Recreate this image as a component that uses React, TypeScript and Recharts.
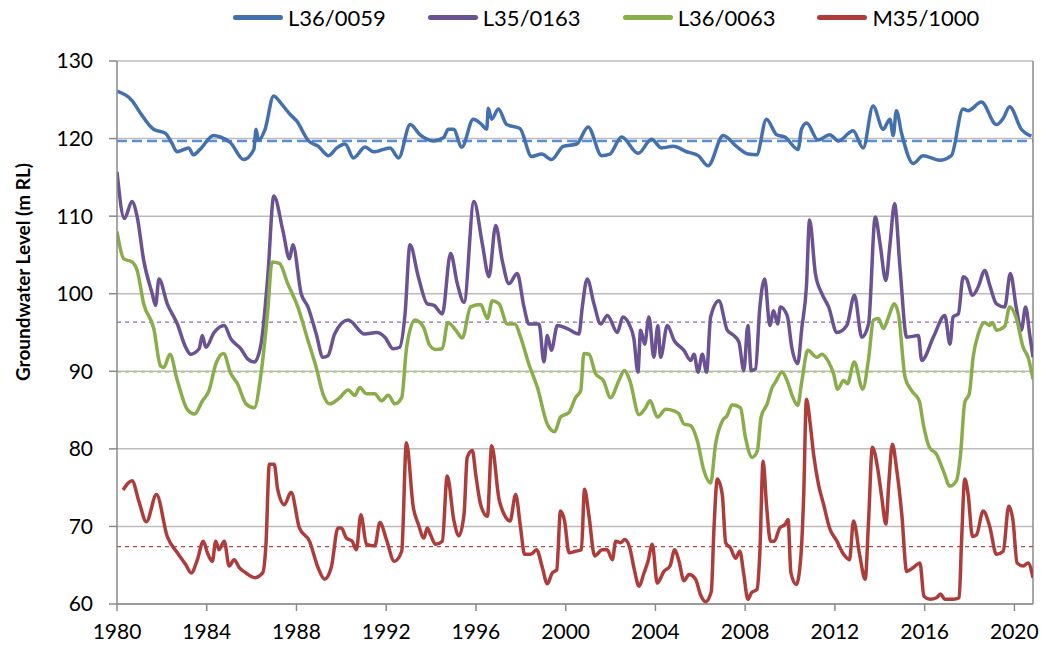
import { LineChart, Line, XAxis, YAxis, CartesianGrid, ReferenceLine } from 'recharts'

// bore L36/0059
const l36_0059Years = [1980.0, 1980.67, 1981.04, 1981.63, 1982.15, 1982.45, 1982.67, 1983.2, 1983.4, 1983.7, 1984.3, 1984.6, 1985.05, 1985.64, 1986.1, 1986.2, 1986.3, 1986.6, 1986.98, 1987.35, 1987.72, 1988.0, 1988.54, 1988.98, 1989.43, 1989.8, 1990.17, 1990.54, 1991.06, 1991.43, 1992.17, 1992.55, 1993.07, 1993.5, 1994.1, 1994.55, 1994.77, 1995.0, 1995.37, 1995.88, 1996.26, 1996.48, 1996.55, 1996.7, 1997.0, 1997.37, 1997.96, 1998.48, 1998.93, 1999.37, 1999.89, 2000.49, 2001.0, 2001.6, 2001.97, 2002.49, 2003.23, 2003.83, 2004.27, 2004.79, 2005.39, 2005.91, 2006.35, 2007.02, 2007.61, 2008.14, 2008.51, 2008.95, 2009.4, 2009.77, 2010.36, 2010.51, 2010.74, 2011.25, 2011.77, 2012.15, 2012.81, 2013.26, 2013.7, 2014.15, 2014.45, 2014.6, 2014.74, 2014.97, 2015.49, 2015.93, 2016.67, 2017.19, 2017.71, 2017.94, 2018.53, 2019.2, 2019.5, 2019.79, 2020.31, 2020.76]
const l36_0059Levels = [126.1, 124.9, 123.3, 121.2, 120.7, 119.4, 118.3, 118.8, 117.9, 118.6, 120.4, 120.2, 119.5, 117.3, 118.6, 121.2, 119.8, 121.2, 125.5, 124.4, 123.1, 122.3, 119.7, 119.0, 117.8, 118.8, 119.3, 117.5, 118.9, 118.3, 118.8, 117.5, 121.8, 120.5, 119.7, 120.1, 121.2, 121.2, 118.9, 122.5, 121.8, 121.2, 123.9, 122.5, 123.8, 121.8, 121.3, 117.7, 118.0, 117.3, 119.0, 119.3, 121.5, 117.8, 118.0, 120.2, 118.1, 119.9, 118.8, 119.0, 118.3, 117.8, 116.5, 120.4, 119.0, 118.0, 117.9, 122.5, 120.5, 120.2, 118.6, 121.2, 122.0, 119.8, 120.5, 119.7, 121.0, 118.8, 124.2, 121.2, 122.5, 120.4, 123.6, 120.7, 116.8, 117.8, 117.2, 117.8, 123.8, 123.6, 124.7, 121.8, 122.6, 124.1, 121.2, 120.3]

// bore L35/0163
const l35_0163Years = [1980.0, 1980.33, 1980.67, 1980.9, 1981.19, 1981.57, 1981.72, 1981.87, 1982.24, 1982.69, 1983.06, 1983.28, 1983.66, 1983.8, 1983.96, 1984.33, 1984.78, 1985.07, 1985.52, 1985.82, 1986.12, 1986.42, 1986.72, 1986.99, 1987.39, 1987.69, 1987.84, 1988.21, 1988.51, 1988.88, 1989.18, 1989.4, 1989.7, 1990.3, 1991.04, 1991.57, 1991.94, 1992.31, 1992.6, 1992.84, 1993.06, 1993.43, 1993.83, 1994.13, 1994.5, 1994.87, 1995.17, 1995.47, 1995.91, 1996.28, 1996.58, 1996.88, 1997.17, 1997.47, 1997.84, 1998.14, 1998.36, 1998.81, 1999.03, 1999.18, 1999.36, 1999.63, 2000.07, 2000.59, 2000.74, 2000.96, 2001.26, 2001.56, 2001.86, 2002.3, 2002.55, 2002.82, 2003.04, 2003.22, 2003.34, 2003.52, 2003.71, 2003.93, 2004.11, 2004.23, 2004.53, 2004.83, 2005.27, 2005.57, 2005.72, 2005.9, 2006.09, 2006.28, 2006.46, 2006.83, 2007.2, 2007.5, 2007.72, 2007.94, 2008.12, 2008.27, 2008.46, 2008.65, 2008.87, 2009.1, 2009.27, 2009.45, 2009.57, 2009.87, 2010.09, 2010.34, 2010.53, 2010.73, 2010.87, 2011.13, 2011.42, 2011.72, 2012.09, 2012.53, 2012.87, 2013.2, 2013.5, 2013.8, 2014.01, 2014.27, 2014.46, 2014.66, 2014.9, 2015.2, 2015.72, 2015.87, 2016.39, 2016.9, 2017.13, 2017.27, 2017.5, 2017.72, 2017.87, 2018.13, 2018.39, 2018.68, 2018.9, 2019.2, 2019.57, 2019.82, 2020.09, 2020.31, 2020.5, 2020.68, 2020.83]
const l35_0163Levels = [115.7, 109.7, 111.9, 109.9, 104.3, 100.0, 98.5, 101.9, 98.7, 96.1, 93.1, 92.2, 92.9, 94.6, 93.1, 95.0, 95.9, 94.2, 92.9, 91.6, 91.2, 93.5, 102.2, 112.6, 108.2, 104.5, 106.3, 100.0, 98.3, 94.8, 91.8, 92.0, 94.8, 96.6, 94.8, 95.0, 94.4, 92.9, 93.1, 97.4, 106.3, 102.2, 98.7, 98.5, 97.4, 105.2, 101.3, 98.9, 111.9, 106.5, 102.2, 108.8, 104.3, 101.3, 102.6, 98.3, 96.1, 96.1, 91.2, 94.6, 92.7, 95.9, 95.5, 94.8, 98.3, 101.9, 98.7, 96.1, 97.2, 95.0, 97.0, 96.1, 94.2, 89.9, 95.3, 93.5, 97.0, 91.8, 95.9, 91.8, 95.9, 94.0, 92.7, 91.4, 92.2, 89.9, 92.2, 89.9, 97.0, 99.1, 95.3, 94.6, 93.8, 90.1, 95.9, 90.1, 90.3, 98.1, 101.9, 95.9, 97.8, 96.1, 98.3, 97.2, 92.9, 91.0, 95.7, 100.9, 109.5, 102.6, 100.0, 98.3, 95.0, 95.9, 99.8, 94.4, 96.1, 109.9, 106.5, 101.7, 106.5, 111.6, 103.4, 94.4, 94.6, 91.4, 94.4, 97.2, 93.5, 97.0, 97.4, 102.2, 101.9, 99.8, 100.9, 103.0, 101.1, 98.7, 98.3, 102.6, 98.1, 95.3, 98.3, 94.8, 91.8]

// bore L36/0063
const l36_0063Years = [1980.0, 1980.3, 1980.67, 1980.9, 1981.19, 1981.64, 1981.94, 1982.09, 1982.36, 1982.69, 1983.13, 1983.46, 1983.81, 1984.1, 1984.4, 1984.75, 1985.07, 1985.37, 1985.75, 1986.12, 1986.42, 1986.72, 1986.91, 1987.24, 1987.61, 1988.06, 1988.51, 1988.88, 1989.18, 1989.48, 1989.93, 1990.3, 1990.6, 1990.82, 1991.12, 1991.49, 1991.79, 1992.09, 1992.39, 1992.69, 1992.91, 1993.28, 1993.66, 1993.93, 1994.2, 1994.5, 1994.75, 1995.1, 1995.39, 1995.76, 1996.21, 1996.51, 1996.73, 1997.03, 1997.4, 1997.74, 1997.99, 1998.36, 1998.74, 1999.18, 1999.51, 1999.77, 2000.15, 2000.44, 2000.67, 2000.81, 2001.04, 2001.33, 2001.68, 2002.0, 2002.37, 2002.62, 2002.86, 2003.27, 2003.52, 2003.76, 2004.09, 2004.46, 2004.83, 2005.05, 2005.27, 2005.57, 2005.87, 2006.16, 2006.46, 2006.68, 2006.98, 2007.2, 2007.42, 2007.79, 2008.01, 2008.31, 2008.54, 2008.71, 2008.98, 2009.2, 2009.35, 2009.64, 2009.87, 2010.09, 2010.34, 2010.53, 2010.79, 2011.2, 2011.42, 2011.72, 2011.94, 2012.12, 2012.39, 2012.56, 2012.86, 2013.24, 2013.5, 2013.72, 2013.94, 2014.16, 2014.39, 2014.64, 2014.83, 2015.13, 2015.42, 2015.76, 2015.94, 2016.21, 2016.53, 2016.83, 2017.13, 2017.42, 2017.6, 2017.79, 2017.99, 2018.16, 2018.39, 2018.68, 2018.9, 2019.02, 2019.2, 2019.57, 2019.79, 2020.09, 2020.39, 2020.61, 2020.83]
const l36_0063Levels = [108.0, 104.5, 104.1, 103.0, 98.7, 95.5, 90.7, 90.5, 92.2, 88.8, 85.1, 84.5, 86.2, 87.5, 90.9, 92.3, 89.7, 88.4, 85.8, 85.3, 89.7, 97.8, 104.1, 103.9, 101.3, 98.3, 94.0, 90.5, 87.1, 85.8, 86.6, 87.6, 86.9, 87.9, 87.1, 87.1, 86.2, 86.9, 85.8, 86.6, 93.1, 96.6, 95.7, 93.4, 92.8, 92.9, 96.3, 95.3, 94.3, 98.3, 98.6, 96.8, 99.1, 98.7, 96.1, 96.1, 94.4, 90.9, 87.9, 83.2, 82.2, 84.1, 84.7, 86.6, 87.5, 92.3, 92.2, 89.7, 88.8, 86.6, 88.8, 90.1, 88.8, 84.4, 85.1, 86.2, 84.1, 85.1, 84.9, 84.5, 83.2, 83.0, 81.0, 77.2, 75.6, 80.6, 83.6, 84.3, 85.7, 85.3, 81.5, 78.9, 79.7, 84.1, 85.8, 87.9, 88.6, 89.9, 88.8, 86.9, 85.6, 88.8, 92.7, 91.8, 92.2, 91.2, 89.7, 87.7, 88.8, 88.4, 91.2, 87.7, 91.6, 96.6, 96.8, 95.5, 97.0, 98.7, 97.4, 89.2, 87.5, 86.2, 83.2, 80.2, 79.3, 77.2, 75.2, 75.9, 79.3, 86.0, 87.1, 91.8, 94.8, 96.3, 95.9, 96.3, 95.3, 95.8, 98.3, 96.8, 93.1, 91.8, 89.0]

// bore M35/1000
const m35_1000Years = [1980.27, 1980.67, 1980.97, 1981.31, 1981.76, 1982.24, 1982.69, 1983.06, 1983.31, 1983.58, 1983.85, 1984.03, 1984.25, 1984.4, 1984.55, 1984.78, 1985.0, 1985.22, 1985.45, 1985.75, 1986.15, 1986.49, 1986.64, 1986.79, 1987.01, 1987.16, 1987.46, 1987.76, 1988.13, 1988.58, 1988.96, 1989.25, 1989.55, 1989.85, 1990.0, 1990.22, 1990.48, 1990.67, 1990.87, 1991.12, 1991.49, 1991.72, 1992.01, 1992.36, 1992.69, 1992.9, 1993.21, 1993.43, 1993.68, 1993.83, 1993.98, 1994.2, 1994.5, 1994.72, 1995.02, 1995.24, 1995.47, 1995.61, 1995.84, 1995.99, 1996.21, 1996.51, 1996.7, 1997.03, 1997.25, 1997.52, 1997.77, 1997.99, 1998.17, 1998.44, 1998.7, 1998.96, 1999.18, 1999.4, 1999.6, 1999.77, 1999.95, 2000.15, 2000.44, 2000.7, 2000.84, 2001.04, 2001.29, 2001.63, 2001.85, 2002.08, 2002.23, 2002.45, 2002.63, 2002.86, 2003.04, 2003.27, 2003.49, 2003.67, 2003.86, 2004.08, 2004.38, 2004.65, 2004.86, 2005.05, 2005.27, 2005.5, 2005.79, 2006.01, 2006.24, 2006.49, 2006.61, 2006.76, 2006.98, 2007.13, 2007.35, 2007.57, 2007.76, 2007.94, 2008.12, 2008.27, 2008.53, 2008.65, 2008.8, 2008.95, 2009.13, 2009.3, 2009.54, 2009.79, 2009.91, 2010.04, 2010.28, 2010.49, 2010.61, 2010.73, 2010.9, 2011.05, 2011.27, 2011.5, 2011.76, 2012.09, 2012.39, 2012.65, 2012.83, 2013.1, 2013.35, 2013.5, 2013.67, 2013.9, 2014.09, 2014.27, 2014.41, 2014.56, 2014.76, 2014.98, 2015.2, 2015.5, 2015.79, 2015.97, 2016.24, 2016.53, 2016.71, 2016.9, 2017.27, 2017.54, 2017.64, 2017.79, 2017.94, 2018.13, 2018.31, 2018.61, 2018.9, 2019.2, 2019.5, 2019.75, 2019.94, 2020.12, 2020.39, 2020.61, 2020.83]
const m35_1000Levels = [74.7, 75.9, 73.3, 70.6, 74.1, 68.7, 66.6, 65.1, 64.0, 65.7, 68.1, 66.6, 65.5, 68.1, 67.0, 68.1, 64.9, 65.7, 64.7, 64.0, 63.4, 64.0, 67.7, 78.0, 78.0, 74.8, 72.8, 74.4, 69.8, 68.1, 64.7, 63.2, 64.7, 69.8, 69.8, 68.5, 68.1, 67.0, 71.5, 67.7, 67.5, 70.5, 68.3, 65.5, 66.8, 80.8, 72.4, 70.3, 68.5, 69.8, 68.9, 67.7, 68.1, 76.5, 70.7, 68.8, 71.6, 78.9, 79.8, 76.7, 72.8, 71.3, 80.4, 73.5, 71.6, 70.7, 74.1, 69.8, 66.4, 66.4, 67.0, 64.7, 62.6, 64.0, 64.4, 72.0, 70.7, 66.6, 66.8, 67.0, 74.8, 71.3, 66.2, 67.0, 67.0, 65.7, 68.1, 67.9, 68.3, 67.2, 64.7, 62.3, 64.0, 65.5, 67.7, 62.7, 64.2, 64.9, 67.0, 65.5, 63.0, 63.8, 63.2, 61.2, 60.3, 61.6, 69.8, 76.1, 74.1, 67.9, 67.2, 65.9, 66.8, 63.8, 60.6, 61.4, 61.9, 66.3, 78.4, 72.8, 68.1, 68.1, 69.8, 70.3, 70.9, 64.0, 62.5, 66.4, 74.1, 86.4, 83.2, 79.3, 75.4, 72.8, 69.8, 68.1, 66.4, 65.7, 70.7, 66.4, 63.2, 70.7, 80.2, 77.6, 73.7, 70.3, 75.9, 80.6, 77.2, 71.6, 64.2, 64.7, 65.3, 61.0, 60.6, 60.8, 61.3, 60.6, 60.6, 60.8, 67.7, 76.1, 74.1, 68.7, 68.9, 72.0, 70.0, 66.4, 66.8, 72.6, 70.7, 65.3, 64.9, 65.3, 63.4]

// long-term average levels
const seriesNames = ['L36/0059', 'L35/0163', 'L36/0063', 'M35/1000']
const averageLevels = [119.7, 96.35, 89.9, 67.4]
const yearTicks = [1980, 1984, 1988, 1992, 1996, 2000, 2004, 2008, 2012, 2016, 2020]
const levelTicks = [60, 70, 80, 90, 100, 110, 120, 130]

const colors = ['#4471ad', '#6b5292', '#88ad4a', '#ad3d3b']
const meanColors = ['#5b8fd2', '#8a6eaa', '#a2cf62', '#b0504e']

const pairs = (years: number[], levels: number[]) => years.map((t, i) => ({ t, v: levels[i] }))

const series = [
    pairs(l36_0059Years, l36_0059Levels),
    pairs(l35_0163Years, l35_0163Levels),
    pairs(l36_0063Years, l36_0063Levels),
    pairs(m35_1000Years, m35_1000Levels),
]

const FONT = 'Lato, "Open Sans", sans-serif'

// legend sits above the plot, outside recharts layout
const LegendRow = () => (
    <div style={{ position: 'absolute', top: 4, left: 233, display: 'flex', alignItems: 'center', gap: 42, fontFamily: FONT, fontSize: 22, color: '#000' }}>
        {seriesNames.map((name, i) => (
            <div key={name} style={{ display: 'flex', alignItems: 'center' }}>
                <div style={{ width: 50, height: 5, borderRadius: 3, background: colors[i], marginRight: 5 }} />
                <span>{name}</span>
            </div>
        ))}
    </div>
)

const AxisTitle = () => (
    <text x={22} y={272} transform="rotate(-90 22 272)" textAnchor="middle" dominantBaseline="central"
        style={{ fontFamily: FONT, fontSize: 19, fontWeight: 700, fill: '#000' }}>
        Groundwater Level (m RL)
    </text>
)

export default function App() {
    return (
        <div style={{ position: 'absolute', left: 0, top: 0, width: 1042, height: 650, background: '#fff' }}>
            <LineChart width={1042} height={650} margin={{ top: 61, right: 9, bottom: 0, left: 0 }}>
                <CartesianGrid vertical={false} stroke="#bcbcbc" strokeWidth={1.5} />
                <XAxis
                    type="number"
                    dataKey="t"
                    domain={[1980, 2020.83]}
                    ticks={yearTicks}
                    allowDataOverflow
                    height={46}
                    stroke="#8a8a8a"
                    strokeWidth={1.5}
                    tickSize={7}
                    tickMargin={13}
                    tick={{ fill: '#000', fontSize: 21, fontFamily: FONT }}
                />
                <YAxis
                    type="number"
                    domain={[60, 130]}
                    ticks={levelTicks}
                    width={117}
                    stroke="#8a8a8a"
                    strokeWidth={1.5}
                    tickSize={8}
                    tickMargin={16}
                    tick={{ fill: '#000', fontSize: 21, fontFamily: FONT }}
                    label={<AxisTitle />}
                />
                <ReferenceLine x={2020.83} stroke="#8a8a8a" strokeWidth={1.5} />
                {averageLevels.map((lvl, i) => (
                    <ReferenceLine key={'avg' + i} y={lvl} stroke={meanColors[i]}
                        strokeWidth={i === 0 ? 2.5 : 1.2}
                        strokeDasharray={i === 0 ? '10 5' : '4 4'} />
                ))}
                {series.map((d, i) => (
                    <Line key={seriesNames[i]} data={d} dataKey="v" name={seriesNames[i]}
                        type="monotone" stroke={colors[i]} strokeWidth={3.5} dot={false}
                        isAnimationActive={false} />
                ))}
            </LineChart>
            <LegendRow />
        </div>
    )
}
